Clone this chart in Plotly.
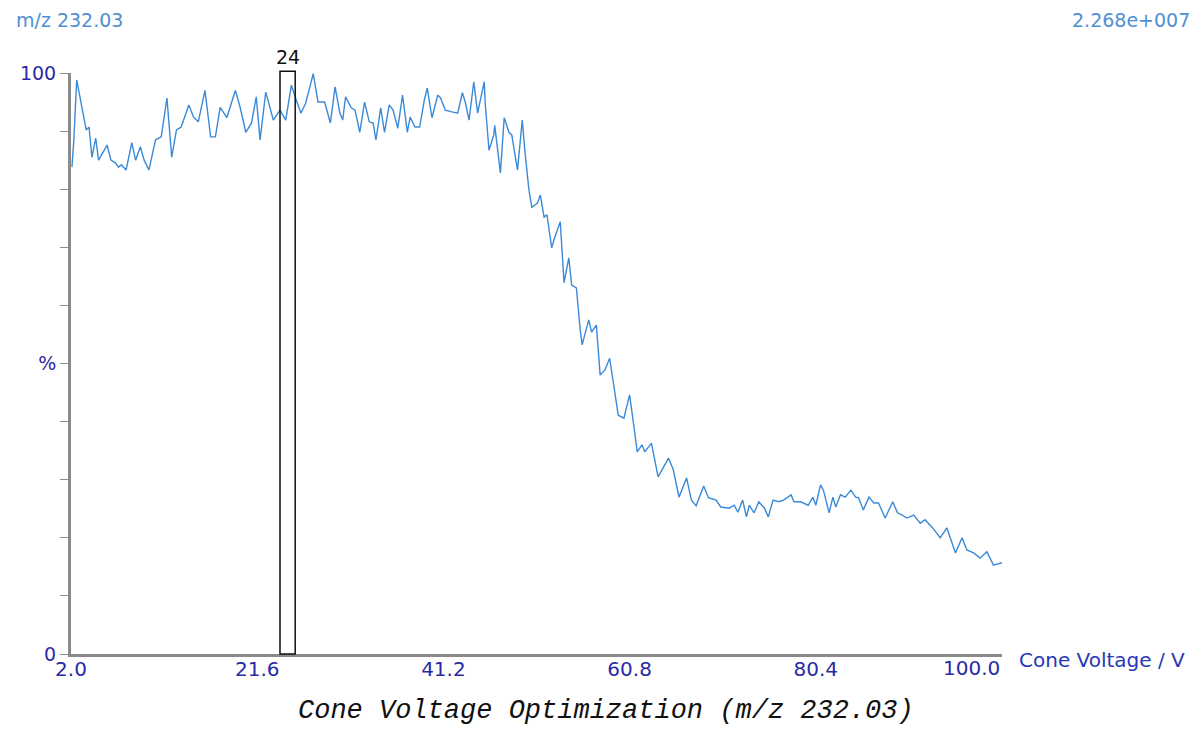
import plotly.graph_objects as go

# Cone voltage (V) and relative intensity (%)
voltage = [2.1, 2.3, 2.6, 3.0, 3.6, 3.9, 4.2, 4.6, 4.9, 5.8, 6.2, 6.7, 7.0, 7.3, 7.8, 8.4, 8.8, 9.3, 9.7, 10.2,
           10.9, 11.5, 12.1, 12.6, 13.1, 13.6, 14.4, 14.9, 15.4, 16.1, 16.7, 17.2, 17.7, 18.4, 19.3, 19.8, 20.4, 21.0, 21.5, 21.9,
           22.5, 23.3, 24.0, 24.6, 25.2, 25.7, 26.2, 26.7, 27.5, 28.0, 28.7, 29.3, 29.8, 30.3, 30.6, 30.9, 31.5, 31.9, 32.4, 32.9,
           33.4, 33.8, 34.1, 34.6, 35.0, 35.5, 35.9, 36.4, 36.9, 37.4, 37.7, 38.2, 38.7, 39.2, 39.5, 40.0, 40.6, 40.9, 41.4, 42.1,
           42.7, 43.2, 43.5, 43.9, 44.4, 44.8, 45.5, 45.6, 46.0, 46.5, 46.6, 47.2, 47.6, 48.1, 48.4, 49.0, 49.5, 49.8, 50.2, 50.5,
           51.1, 51.4, 51.8, 52.1, 52.6, 52.9, 53.5, 53.9, 54.4, 54.7, 55.2, 55.6, 55.8, 56.5, 56.8, 57.3, 57.7, 58.2, 58.7, 59.1,
           59.6, 60.2, 60.8, 61.3, 61.6, 62.1, 62.4, 63.1, 63.8, 64.9, 65.4, 66.0, 66.8, 67.3, 67.8, 68.6, 69.1, 69.9, 70.4, 71.3,
           71.8, 72.2, 72.7, 73.1, 73.4, 73.9, 74.4, 75.0, 75.4, 75.9, 76.5, 77.0, 77.8, 78.1, 78.8, 79.6, 80.1, 80.4, 80.9, 81.2,
           81.8, 82.2, 82.5, 83.0, 83.5, 84.1, 84.6, 84.9, 85.4, 86.0, 86.5, 87.0, 87.7, 88.5, 89.0, 89.5, 90.0, 90.7, 91.4, 91.9,
           92.7, 93.5, 94.2, 95.1, 95.8, 96.3, 97.0, 97.7, 98.4, 99.1, 100.0]
intensity = [83.8, 88.5, 98.8, 95.4, 90.2, 90.7, 85.5, 88.8, 85.0, 87.6, 85.0, 84.5, 83.8, 84.2, 83.3, 88.0, 85.0, 87.3, 85.0, 83.3,
             88.5, 89.0, 95.7, 85.5, 90.2, 90.7, 94.5, 92.4, 91.6, 97.0, 89.0, 89.0, 94.1, 92.3, 97.0, 94.1, 89.8, 91.4, 95.9, 88.5,
             96.7, 91.9, 93.6, 91.9, 97.9, 95.4, 93.1, 94.8, 99.9, 95.0, 95.0, 91.4, 97.6, 93.1, 91.9, 95.9, 94.0, 93.6, 89.8, 95.0,
             91.6, 91.4, 88.5, 94.0, 89.8, 94.5, 93.6, 90.5, 96.2, 89.8, 92.4, 90.7, 90.7, 95.4, 97.4, 92.3, 96.2, 95.7, 93.6, 93.3,
             93.1, 96.6, 95.0, 91.9, 98.5, 93.1, 98.5, 94.8, 86.7, 89.3, 91.0, 82.8, 92.3, 89.8, 89.3, 83.3, 91.9, 86.2, 79.9, 76.9,
             77.6, 79.0, 75.2, 75.6, 69.9, 71.6, 74.4, 63.9, 68.2, 63.5, 63.0, 55.8, 53.2, 57.5, 55.4, 56.6, 48.0, 48.9, 50.9, 46.6,
             41.1, 40.6, 44.6, 38.6, 34.8, 36.0, 34.8, 36.3, 30.5, 33.7, 31.7, 27.0, 30.3, 26.5, 25.5, 28.9, 26.9, 26.5, 25.3, 25.1,
             25.6, 24.4, 26.5, 23.6, 25.6, 24.3, 26.2, 25.1, 23.6, 26.5, 26.2, 26.5, 27.4, 26.2, 26.2, 25.6, 27.0, 25.6, 29.1, 28.2,
             24.3, 27.0, 25.3, 27.4, 27.0, 28.2, 27.0, 26.9, 24.8, 27.0, 26.0, 26.0, 23.4, 26.2, 24.3, 23.9, 23.4, 23.9, 22.5, 23.1,
             21.7, 20.0, 21.7, 17.4, 20.0, 17.9, 17.4, 16.5, 17.6, 15.3, 15.7]

x_tick_vals = [2.0, 21.6, 41.2, 60.8, 80.4, 100.0]
x_tick_text = ["2.0", "21.6", "41.2", "60.8", "80.4", "100.0"]
y_tick_vals = [0, 10, 20, 30, 40, 50, 60, 70, 80, 90, 100]
y_tick_text = ["0", "", "", "", "", "%", "", "", "", "", "100"]

marker_start = 24.0
marker_end = 25.6
marker_label = "24"

line_color = "#3a8ad8"
label_blue = "#2a2aa5"
top_blue = "#4f8fd1"

fig = go.Figure()
fig.add_trace(go.Scatter(x=voltage, y=intensity, mode="lines",
                         line=dict(color=line_color, width=1.4), showlegend=False,
                         hoverinfo="skip"))

fig.add_shape(type="rect", xref="x", yref="paper", x0=marker_start, x1=marker_end,
              y0=0, y1=1.003, line=dict(color="#111111", width=1.5), fillcolor="rgba(0,0,0,0)")

fig.add_annotation(x=(marker_start + marker_end) / 2, xref="x", y=1.0275, yref="paper",
                   text=marker_label, showarrow=False, yanchor="middle",
                   font=dict(family="DejaVu Sans", size=19, color="#111111"))

# last x tick label sits flush left of the axis end, as in the reference
fig.add_annotation(x=x_tick_vals[-1], xref="x", y=-0.024, yref="paper",
                   text=x_tick_text[-1], showarrow=False, xanchor="right", yanchor="middle",
                   font=dict(family="DejaVu Sans", size=20, color=label_blue))

fig.add_annotation(x=-0.061, xref="paper", y=1.091, yref="paper", text="m/z 232.03",
                   showarrow=False, xanchor="left", yanchor="middle",
                   font=dict(family="DejaVu Sans", size=19, color=top_blue))
fig.add_annotation(x=1.204, xref="paper", y=1.091, yref="paper", text="2.268e+007",
                   showarrow=False, xanchor="right", yanchor="middle",
                   font=dict(family="DejaVu Sans", size=19, color=top_blue))
fig.add_annotation(x=1.016, xref="paper", y=-0.010, yref="paper", text="Cone Voltage / V",
                   showarrow=False, xanchor="left", yanchor="middle",
                   font=dict(family="DejaVu Sans", size=20, color="#2838b8"))
fig.add_annotation(x=0.575, xref="paper", y=-0.098, yref="paper",
                   text="<i>Cone Voltage Optimization (m/z 232.03)</i>",
                   showarrow=False, xanchor="center", yanchor="middle",
                   font=dict(family="Liberation Mono", size=27, color="#111111"))

# the page body adds an 8 px offset; the figure is sized to fit inside the window
fig.update_layout(
    width=1196, height=723,
    margin=dict(l=59, r=202, t=65, b=77),
    paper_bgcolor="white", plot_bgcolor="white",
    xaxis=dict(range=[2, 100], showgrid=False, zeroline=False, showline=True,
               linecolor="#8a8a8a", linewidth=3, ticks="",
               tickvals=x_tick_vals[:-1], ticktext=x_tick_text[:-1], ticklabelstandoff=-5,
               tickfont=dict(family="DejaVu Sans", size=20, color=label_blue)),
    yaxis=dict(range=[0, 100], showgrid=False, zeroline=False, showline=True,
               linecolor="#8a8a8a", linewidth=3, ticks="outside", ticklen=8,
               tickcolor="#8a8a8a", tickwidth=1,
               tickvals=y_tick_vals, ticktext=y_tick_text,
               tickfont=dict(family="DejaVu Sans", size=19, color=label_blue)),
)

fig.write_html("out.html")
